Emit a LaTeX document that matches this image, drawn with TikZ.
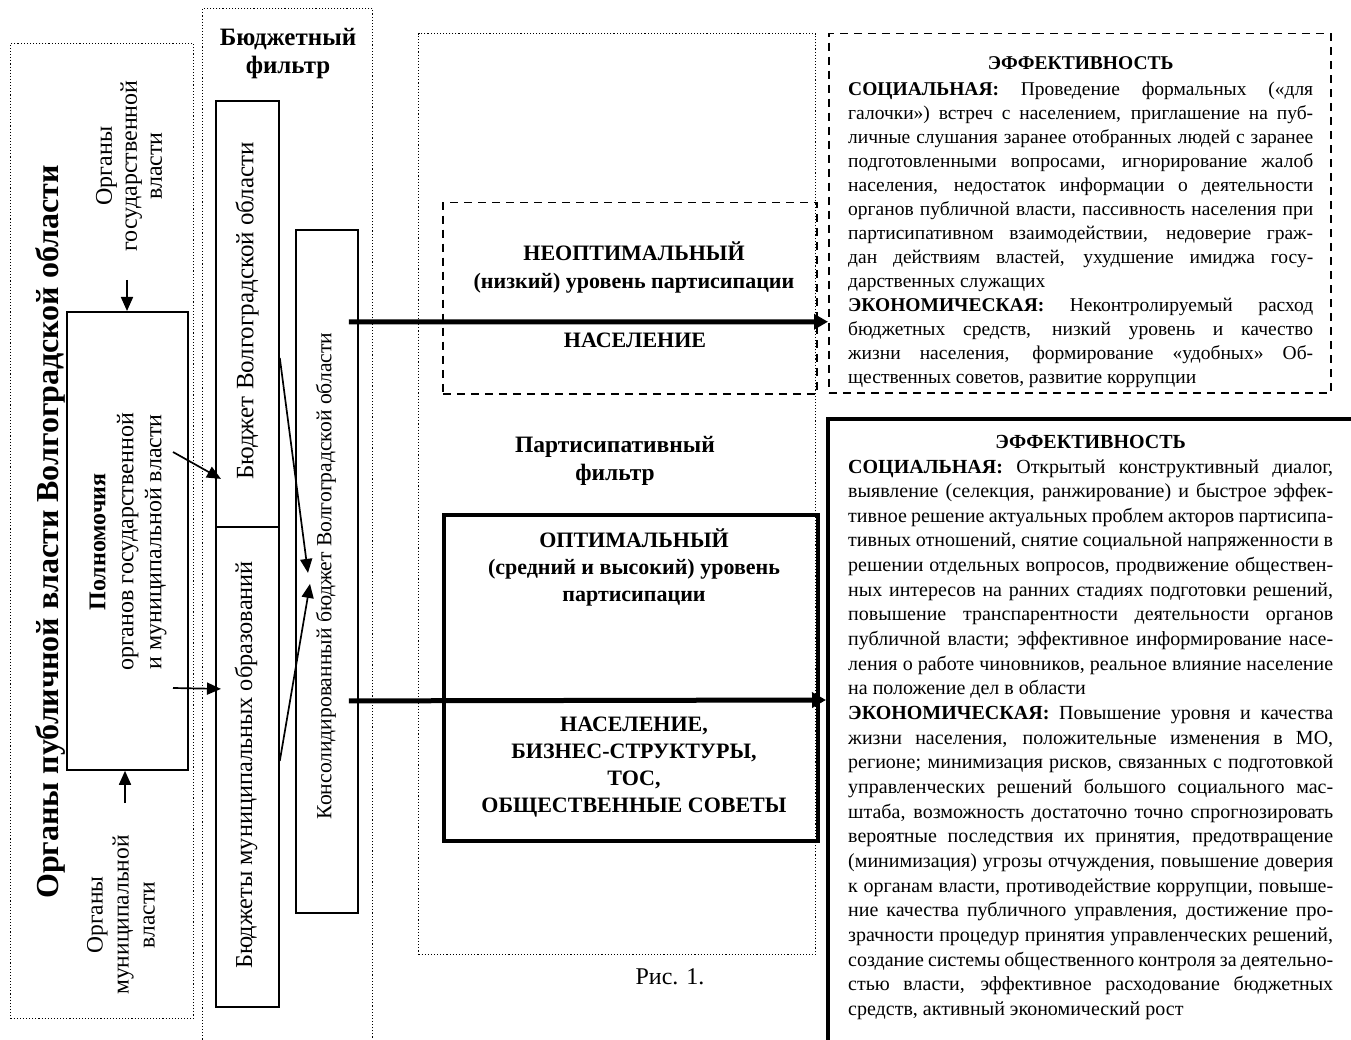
\documentclass[tikz,border=0pt]{standalone}
\usepackage{fontspec}
\setmainfont{Liberation Serif}
\usetikzlibrary{arrows.meta}
\newcommand\fsz[2]{\fontsize{#1}{#2}\selectfont}
\newcommand\jl[1]{\hbox to \hsize{#1}}
\newcommand\lastl[1]{\hbox to \hsize{#1\hfil}}
\newcommand\midl[1]{\hbox to \hsize{\hfil#1\hfil}}
\tikzset{
  dotbox/.style={draw, dotted, line width=1.1pt, inner sep=0pt, anchor=north west},
  dashbox/.style={draw, dash pattern=on 8pt off 6pt, line width=1.5pt, inner sep=0pt, anchor=north west},
  plainbox/.style={draw, line width=1.8pt, inner sep=0pt, anchor=north west},
  heavybox/.style={draw, line width=3.6pt, inner sep=0pt, anchor=north west},
  hugebox/.style={draw, line width=4.3pt, inner sep=0pt, anchor=north west},
  arr/.style={line width=1.7pt, -{Triangle[length=14pt,width=12pt]}},
  heavyarr/.style={line width=5pt, -{Triangle[length=14pt,width=15pt]}},
  rtext/.style={rotate=90, align=center, inner sep=0pt},
  ctext/.style={align=center, inner sep=0pt, font=\bfseries\fsz{22}{28}},
}
\begin{document}
\begin{tikzpicture}[x=1pt,y=-1pt]
\useasboundingbox (0,0) rectangle (1351,1040);
\fill[white] (0,0) rectangle (1351,1040);
\clip (0,0) rectangle (1351,1040);

% dotted frames
\node[dotbox, minimum width=183pt, minimum height=975pt] (lbox) at (10,43) {};
\node[dotbox, minimum width=170pt, minimum height=1045pt] (bfbox) at (202,8) {};
\node[dotbox, minimum width=397pt, minimum height=921pt] (pbox) at (418,33) {};

% budget boxes
\node[plainbox, minimum width=63pt, minimum height=426pt] (bvo) at (215,100) {};
\node[plainbox, minimum width=63pt, minimum height=480pt] (bmo) at (215,526) {};
\node[plainbox, minimum width=62pt, minimum height=683pt] (kons) at (295,229) {};
\node[plainbox, minimum width=121pt, minimum height=458pt] (poln) at (66,311) {};

% participation boxes
\node[dashbox, minimum width=374pt, minimum height=191pt] (neopt) at (442,202) {};
\node[heavybox, minimum width=374pt, minimum height=326pt] (opt) at (442,513) {};

% efficiency boxes
\node[dashbox, minimum width=502pt, minimum height=359pt] (eff1) at (828,33) {};
\node[hugebox, minimum width=600pt, minimum height=700pt] (eff2) at (826,417) {};

% rotated texts
\node[rtext, font=\bfseries\fsz{32}{36}] (title) at (50,532) {Органы публичной власти Волгоградской области};
\node[rtext, font=\fsz{24}{25}] (gov) at (129,166) {Органы\\государственной\\власти};
\node[rtext, font=\fsz{23.5}{26}] (mun) at (121,915) {Органы\\муниципальной\\власти};
\node[rtext, font=\fsz{24}{28}] (polnT) at (128,542) {\textbf{Полномочия}\\органов государственной\\и муниципальной власти};
\node[rtext, font=\fsz{25}{26}] (bvoT) at (247,311) {Бюджет Волгоградской области};
\node[rtext, font=\fsz{24.3}{26}] (bmoT) at (246,765) {Бюджеты муниципальных образований};
\node[rtext, font=\fsz{21.6}{26}] (konsT) at (326,576) {Консолидированный бюджет Волгоградской области};

% centred bold texts
\node[ctext, font=\bfseries\fsz{25}{28}] (bfT) at (288,54) {Бюджетный\\фильтр};
\node[ctext] (neoptT) at (634,268) {НЕОПТИМАЛЬНЫЙ\\(низкий) уровень партисипации};
\node[ctext] (nasel1) at (635,340) {НАСЕЛЕНИЕ};
\node[ctext, font=\bfseries\fsz{23.5}{28}] (pfT) at (615,461) {Партисипативный\\фильтр};
\node[ctext, font=\bfseries\fsz{22}{27}] (optT) at (634,567) {ОПТИМАЛЬНЫЙ\\(средний и высокий) уровень\\партисипации};
\node[ctext, font=\bfseries\fsz{22}{27}] (nasel2) at (634,767) {НАСЕЛЕНИЕ,\\БИЗНЕС-СТРУКТУРЫ,\\ТОС,\\ОБЩЕСТВЕННЫЕ СОВЕТЫ};
\node[inner sep=0pt, font=\fsz{24}{26}] (fig) at (670,977) {Рис. 1.};

% efficiency texts
\begin{scope}
\clip (829,34) rectangle (1329,390);
\node[anchor=base west, inner sep=0pt] (eff1T) at (848,70) {\vtop{\hsize=465pt\fsz{19.5}{24}%
\midl{\bfseries ЭФФЕКТИВНОСТЬ}\vskip2pt
\jl{\textbf{СОЦИАЛЬНАЯ:} Проведение формальных («для}
\jl{галочки») встреч с населением, приглашение на пуб-}
\jl{личные слушания заранее отобранных людей с заранее}
\jl{подготовленными вопросами, игнорирование жалоб}
\jl{населения, недостаток информации о деятельности}
\jl{органов публичной власти, пассивность населения при}
\jl{партисипативном взаимодействии, недоверие граж-}
\jl{дан действиям властей, ухудшение имиджа госу-}
\lastl{дарственных служащих}
\jl{\textbf{ЭКОНОМИЧЕСКАЯ:} Неконтролируемый расход}
\jl{бюджетных средств, низкий уровень и качество}
\jl{жизни населения, формирование «удобных» Об-}
\lastl{щественных советов, развитие коррупции}}};
\end{scope}

\node[anchor=base west, inner sep=0pt] (eff2T) at (848,448) {\vtop{\hsize=485pt\fsz{20}{24.65}%
\midl{\bfseries ЭФФЕКТИВНОСТЬ}\vskip0.35pt
\jl{\textbf{СОЦИАЛЬНАЯ:} Открытый конструктивный диалог,}
\jl{выявление (селекция, ранжирование) и быстрое эффек-}
\jl{тивное решение актуальных проблем акторов партисипа-}
\jl{тивных отношений, снятие социальной напряженности в}
\jl{решении отдельных вопросов, продвижение обществен-}
\jl{ных интересов на ранних стадиях подготовки решений,}
\jl{повышение транспарентности деятельности органов}
\jl{публичной власти; эффективное информирование насе-}
\jl{ления о работе чиновников, реальное влияние население}
\lastl{на положение дел в области}
\jl{\textbf{ЭКОНОМИЧЕСКАЯ:} Повышение уровня и качества}
\jl{жизни населения, положительные изменения в МО,}
\jl{регионе; минимизация рисков, связанных с подготовкой}
\jl{управленческих решений большого социального мас-}
\jl{штаба, возможность достаточно точно спрогнозировать}
\jl{вероятные последствия их принятия, предотвращение}
\jl{(минимизация) угрозы отчуждения, повышение доверия}
\jl{к органам власти, противодействие коррупции, повыше-}
\jl{ние качества публичного управления, достижение про-}
\jl{зрачности процедур принятия управленческих решений,}
\jl{создание системы общественного контроля за деятельно-}
\jl{стью власти, эффективное расходование бюджетных}
\lastl{средств, активный экономический рост}}};

% arrows
\coordinate (govA) at (127,280);
\draw[arr] (govA) -- (govA |- poln.north);
\coordinate (munA) at (125,803);
\draw[arr] (munA) -- (munA |- poln.south);
\coordinate (p1) at (173,452);
\draw[arr] (p1) -- ([shift={(6,165)}]bvo.west);
\coordinate (p2) at (173,688);
\draw[arr] (p2) -- ([shift={(6,-78)}]bmo.west);
\draw[arr] ([shift={(0,44)}]bvo.east) -- ([shift={(13,1.5)}]kons.west);
\draw[arr] ([shift={(0,-6)}]bmo.east) -- ([shift={(15,12.5)}]kons.west);
\draw[heavyarr] ([shift={(-10,-249.5)}]kons.east) -- ([shift={(0,108.5)}]eff1.west);
\draw[heavyarr] ([shift={(-10,129.5)}]kons.east) -- ([shift={(0,283)}]eff2.north west);
\end{tikzpicture}
\end{document}
